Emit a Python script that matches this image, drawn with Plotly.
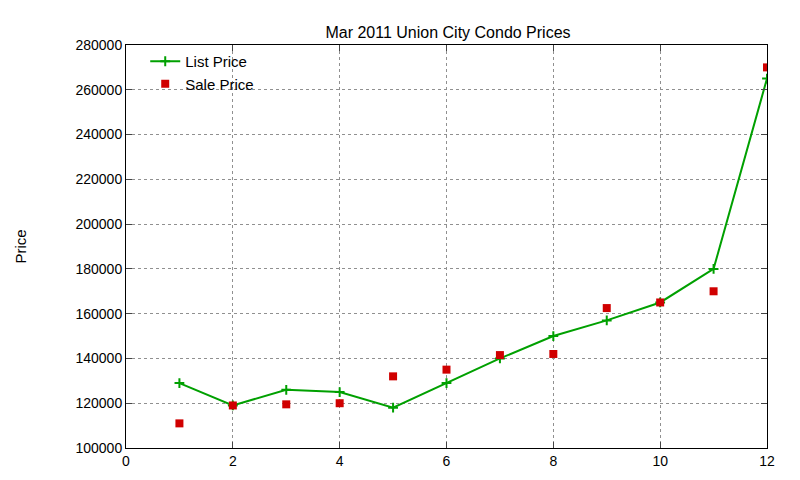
import plotly.graph_objects as go

months = [1, 2, 3, 4, 5, 6, 7, 8, 9, 10, 11, 12]
list_price = [129000, 119000, 126000, 125000, 118000, 129000, 140000, 150000, 157000, 165000, 180000, 265000]
sale_price = [111000, 119000, 119500, 120000, 132000, 135000, 141500, 142000, 162500, 165000, 170000, 270000]

fig = go.Figure()
fig.add_trace(go.Scatter(x=months, y=list_price, mode="lines+markers", name="List Price",
                         line=dict(color="#00a000", width=2),
                         marker=dict(symbol="cross-thin", size=7, line=dict(color="#00a000", width=2))))
fig.add_trace(go.Scatter(x=months, y=sale_price, mode="markers", name="Sale Price",
                         marker=dict(symbol="square", size=8, color="#d00000")))

axis = dict(showline=True, linecolor="black", mirror="ticks", ticks="inside", ticklen=6,
            showgrid=True, gridcolor="#909090", griddash="dot", zeroline=False,
            tickfont=dict(size=14, color="black"))
fig.update_xaxes(range=[0, 12], dtick=2, **axis)
fig.update_yaxes(range=[100000, 280000], dtick=20000, tickformat="d",
                 title=dict(text="Price", font=dict(size=15, color="black"), standoff=45), **axis)
fig.update_layout(
    width=800, height=480, plot_bgcolor="white", paper_bgcolor="white",
    font=dict(family="Liberation Sans, Arial", color="black"),
    title=dict(text="Mar 2011 Union City Condo Prices", x=0.55, xanchor="center", y=0.96,
               font=dict(size=16, color="black")),
    margin=dict(l=113, r=41, t=37, b=40),
    legend=dict(x=0.03, y=1.0, xanchor="left", yanchor="top", bgcolor="rgba(0,0,0,0)",
                font=dict(size=15)),
)
fig.write_html("out.html")
